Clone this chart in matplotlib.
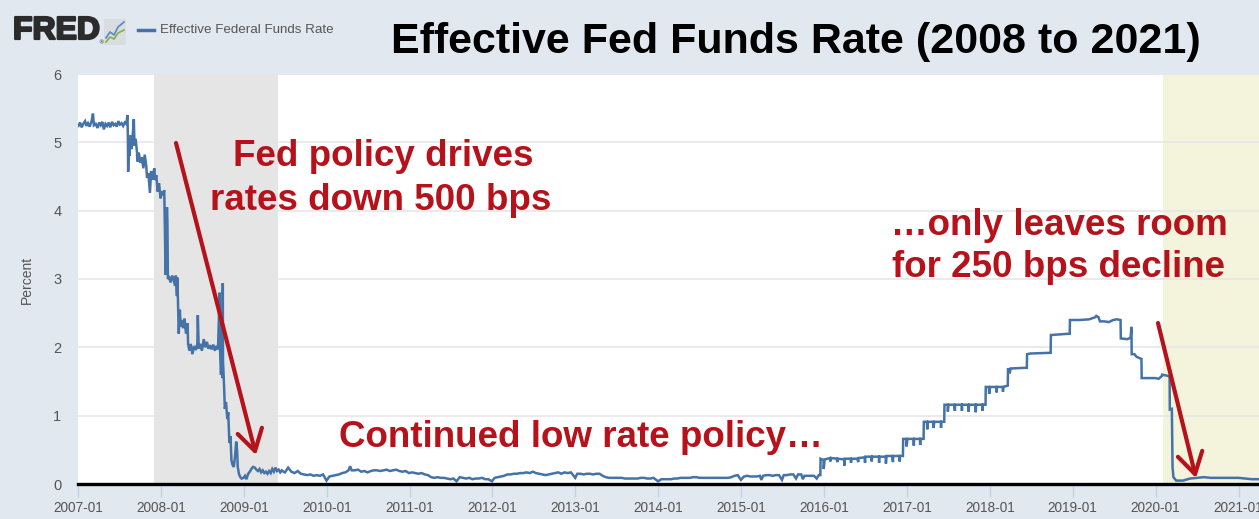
import matplotlib
matplotlib.use("Agg")
import matplotlib.pyplot as plt
import matplotlib.dates as mdates
import matplotlib.patheffects as pe
from matplotlib.patches import Rectangle, FancyArrowPatch
from matplotlib.lines import Line2D
import numpy as np
import pandas as pd

# ---------------- data ----------------
dates_crisis = ["2007-01-03","2007-01-10","2007-01-17","2007-01-24","2007-02-01","2007-02-07","2007-02-14","2007-02-21",
    "2007-03-01","2007-03-08","2007-03-12","2007-03-20","2007-03-28","2007-04-04","2007-04-11","2007-04-18","2007-04-25",
    "2007-05-02","2007-05-09","2007-05-16","2007-05-23","2007-05-31","2007-06-07","2007-06-14","2007-06-21","2007-06-28",
    "2007-07-05","2007-07-12","2007-07-19","2007-07-26","2007-08-02","2007-08-07","2007-08-09","2007-08-10","2007-08-13",
    "2007-08-16","2007-08-20","2007-08-24","2007-08-29","2007-09-04","2007-09-07","2007-09-12","2007-09-18","2007-09-20",
    "2007-09-26","2007-10-02","2007-10-09","2007-10-16","2007-10-22","2007-10-29","2007-11-01","2007-11-07","2007-11-14",
    "2007-11-19","2007-11-26","2007-12-03","2007-12-07","2007-12-12","2007-12-18","2007-12-24","2007-12-31","2008-01-04",
    "2008-01-10","2008-01-16","2008-01-22","2008-01-24","2008-01-28","2008-01-30","2008-02-01","2008-02-07","2008-02-13",
    "2008-02-20","2008-02-27","2008-03-04","2008-03-07","2008-03-12","2008-03-14","2008-03-18","2008-03-20","2008-03-25",
    "2008-03-28","2008-04-02","2008-04-08","2008-04-14","2008-04-21","2008-04-28","2008-04-30","2008-05-06","2008-05-12",
    "2008-05-19","2008-05-27","2008-06-03","2008-06-10","2008-06-12","2008-06-16","2008-06-23","2008-06-30","2008-07-08",
    "2008-07-15","2008-07-22","2008-07-29","2008-08-05","2008-08-12","2008-08-19","2008-08-26","2008-09-02","2008-09-09",
    "2008-09-15","2008-09-16","2008-09-18","2008-09-22","2008-09-25","2008-09-29","2008-09-30","2008-10-01","2008-10-06",
    "2008-10-09","2008-10-14","2008-10-20","2008-10-24","2008-10-29","2008-11-03","2008-11-07","2008-11-12","2008-11-18",
    "2008-11-24","2008-11-28","2008-12-02","2008-12-05","2008-12-10","2008-12-16","2008-12-22","2008-12-30","2009-01-06",
    "2009-01-12","2009-01-20","2009-01-27","2009-02-03","2009-02-10","2009-02-18","2009-02-25","2009-03-04","2009-03-11",
    "2009-03-18","2009-03-25","2009-04-01","2009-04-08","2009-04-15","2009-04-22","2009-04-29","2009-05-06","2009-05-13",
    "2009-05-20","2009-05-27","2009-06-03","2009-06-10","2009-06-17","2009-06-24"]
rate_crisis = [5.24,5.29,5.22,5.27,5.31,5.24,5.28,5.23,
    5.30,5.42,5.25,5.27,5.21,5.29,5.25,5.30,5.19,
    5.27,5.24,5.29,5.22,5.30,5.25,5.27,5.23,5.31,
    5.26,5.28,5.24,5.29,5.27,5.40,5.02,4.57,5.00,
    4.80,5.10,4.90,5.05,5.34,4.95,5.05,4.85,4.72,
    4.85,4.70,4.78,4.62,4.82,4.65,4.48,4.55,4.26,
    4.58,4.45,4.62,4.45,4.52,4.28,4.40,4.18,4.28,
    4.22,4.30,3.06,3.55,4.05,3.85,3.00,3.02,2.95,
    3.05,2.98,2.90,3.05,2.75,3.02,2.45,2.20,2.55,
    2.30,2.40,2.28,2.42,2.20,2.35,2.05,1.95,2.05,
    1.90,2.02,1.96,2.05,2.47,1.98,2.05,1.95,2.12,
    2.00,2.08,1.98,2.03,1.97,2.04,1.95,2.02,1.97,
    2.64,2.80,1.95,1.60,1.90,1.55,2.94,1.80,1.40,
    1.10,1.20,0.95,1.05,0.60,0.70,0.35,0.28,0.25,
    0.45,0.62,0.50,0.25,0.15,0.10,0.08,0.09,0.12,
    0.07,0.15,0.18,0.22,0.25,0.24,0.21,0.19,0.22,
    0.17,0.20,0.16,0.18,0.15,0.19,0.16,0.22,0.18,
    0.24,0.19,0.21,0.17,0.20,0.18]

dates_zlb = ["2009-07-01","2009-07-15","2009-07-29","2009-08-12","2009-08-26","2009-09-09","2009-09-23","2009-10-07",
    "2009-10-21","2009-11-04","2009-11-18","2009-12-02","2009-12-16","2009-12-31","2010-01-13","2010-01-27","2010-02-10",
    "2010-02-24","2010-03-10","2010-03-24","2010-04-07","2010-04-14","2010-04-21","2010-05-05","2010-05-19","2010-06-02",
    "2010-06-16","2010-06-30","2010-07-14","2010-07-28","2010-08-11","2010-08-25","2010-09-08","2010-09-22","2010-10-06",
    "2010-10-20","2010-11-03","2010-11-17","2010-12-01","2010-12-15","2010-12-29","2011-01-12","2011-01-26","2011-02-09",
    "2011-02-23","2011-03-09","2011-03-23","2011-04-06","2011-04-20","2011-05-04","2011-05-18","2011-06-01","2011-06-15",
    "2011-06-29","2011-07-13","2011-07-27","2011-08-10","2011-08-24","2011-09-07","2011-09-21","2011-10-05","2011-10-19",
    "2011-11-02","2011-11-16","2011-11-30","2011-12-14","2011-12-30","2012-01-11","2012-01-25","2012-02-08","2012-02-22",
    "2012-03-07","2012-03-21","2012-04-04","2012-04-18","2012-05-02","2012-05-16","2012-05-30","2012-06-13","2012-06-27",
    "2012-07-11","2012-07-25","2012-08-08","2012-08-22","2012-09-05","2012-09-19","2012-10-03","2012-10-17","2012-10-31",
    "2012-11-14","2012-11-28","2012-12-12","2012-12-31","2013-01-09","2013-01-23","2013-02-06","2013-02-20","2013-03-06",
    "2013-03-20","2013-04-03","2013-04-17","2013-05-01","2013-05-15","2013-05-29","2013-06-12","2013-06-26","2013-07-10",
    "2013-07-24","2013-08-07","2013-08-21","2013-09-04","2013-09-18","2013-10-02","2013-10-16","2013-10-30","2013-11-13",
    "2013-11-27","2013-12-11","2013-12-31","2014-01-15","2014-01-29","2014-02-12","2014-02-26","2014-03-12","2014-03-26",
    "2014-04-09","2014-04-23","2014-05-07","2014-05-21","2014-06-04","2014-06-18","2014-07-02","2014-07-16","2014-07-30",
    "2014-08-13","2014-08-27","2014-09-10","2014-09-24","2014-10-08","2014-10-22","2014-11-05","2014-11-19","2014-12-03",
    "2014-12-17","2014-12-31","2015-01-14","2015-01-28","2015-02-11","2015-02-25","2015-03-11","2015-03-25","2015-03-31",
    "2015-04-08","2015-04-22","2015-05-06","2015-05-20","2015-06-03","2015-06-17","2015-06-30","2015-07-08","2015-07-22",
    "2015-08-05","2015-08-19","2015-08-31","2015-09-09","2015-09-23","2015-09-30","2015-10-07","2015-10-21","2015-11-04",
    "2015-11-18","2015-11-30","2015-12-09","2015-12-16"]
rate_zlb = [0.17,0.24,0.18,0.16,0.19,0.15,0.14,0.13,
    0.14,0.12,0.13,0.12,0.14,0.05,0.11,0.12,0.13,
    0.14,0.16,0.17,0.20,0.26,0.20,0.20,0.21,0.18,
    0.19,0.17,0.19,0.20,0.20,0.19,0.20,0.21,0.19,
    0.20,0.21,0.19,0.18,0.19,0.16,0.17,0.16,0.15,
    0.16,0.14,0.13,0.10,0.09,0.10,0.09,0.09,0.08,
    0.07,0.08,0.04,0.10,0.09,0.08,0.09,0.07,0.08,
    0.08,0.09,0.07,0.07,0.04,0.09,0.10,0.11,0.12,
    0.14,0.14,0.15,0.15,0.16,0.16,0.17,0.16,0.18,
    0.16,0.15,0.14,0.13,0.14,0.15,0.16,0.17,0.15,
    0.17,0.16,0.17,0.09,0.15,0.15,0.14,0.15,0.15,
    0.14,0.15,0.15,0.12,0.10,0.09,0.09,0.09,0.09,
    0.09,0.08,0.08,0.08,0.08,0.08,0.09,0.09,0.08,
    0.08,0.09,0.04,0.07,0.07,0.07,0.07,0.08,0.08,
    0.09,0.09,0.09,0.09,0.10,0.10,0.09,0.09,0.09,
    0.09,0.09,0.09,0.09,0.09,0.09,0.09,0.10,0.12,
    0.13,0.06,0.11,0.12,0.11,0.11,0.11,0.12,0.06,
    0.12,0.13,0.13,0.12,0.13,0.13,0.06,0.13,0.13,
    0.14,0.14,0.08,0.14,0.14,0.07,0.12,0.12,0.12,
    0.12,0.08,0.13,0.13]

dates_hikes = ["2015-12-17","2015-12-30","2015-12-31","2016-01-04","2016-01-28","2016-01-29","2016-02-01","2016-02-26",
    "2016-02-29","2016-03-01","2016-03-30","2016-03-31","2016-04-01","2016-04-28","2016-04-29","2016-05-02","2016-05-27",
    "2016-05-31","2016-06-01","2016-06-29","2016-06-30","2016-07-01","2016-07-28","2016-07-29","2016-08-01","2016-08-30",
    "2016-08-31","2016-09-01","2016-09-29","2016-09-30","2016-10-03","2016-10-28","2016-10-31","2016-11-01","2016-11-29",
    "2016-11-30","2016-12-01","2016-12-14","2016-12-15","2016-12-29","2016-12-30","2017-01-03","2017-01-30","2017-01-31",
    "2017-02-01","2017-02-27","2017-02-28","2017-03-01","2017-03-15","2017-03-16","2017-03-30","2017-03-31","2017-04-03",
    "2017-04-27","2017-04-28","2017-05-01","2017-05-30","2017-05-31","2017-06-01","2017-06-14","2017-06-15","2017-06-29",
    "2017-06-30","2017-07-03","2017-07-28","2017-07-31","2017-08-01","2017-08-30","2017-08-31","2017-09-01","2017-09-28",
    "2017-09-29","2017-10-02","2017-10-30","2017-10-31","2017-11-01","2017-11-29","2017-11-30","2017-12-01","2017-12-13",
    "2017-12-14","2017-12-28","2017-12-29","2018-01-02","2018-01-30","2018-01-31","2018-02-01","2018-02-27","2018-02-28",
    "2018-03-01","2018-03-21","2018-03-22","2018-03-29","2018-03-30","2018-04-02","2018-05-31","2018-06-13","2018-06-14",
    "2018-06-29","2018-07-02","2018-09-26","2018-09-27","2018-12-19","2018-12-20","2019-01-31","2019-03-15","2019-04-10",
    "2019-04-15","2019-04-25","2019-05-01","2019-05-20","2019-06-10","2019-06-28","2019-07-15","2019-07-31","2019-08-01",
    "2019-08-30","2019-09-13","2019-09-16","2019-09-17","2019-09-18","2019-09-30","2019-10-10","2019-10-31","2019-11-01",
    "2019-12-31","2020-01-15","2020-01-29","2020-01-30","2020-02-28","2020-03-03","2020-03-04","2020-03-13","2020-03-16",
    "2020-03-20","2020-04-01","2020-05-01","2020-06-01","2020-07-01","2020-08-01","2020-09-01","2020-10-01","2020-11-01",
    "2020-12-01","2021-01-01","2021-02-01","2021-03-01","2021-04-01"]
rate_hikes = [0.37,0.35,0.22,0.36,0.38,0.33,0.38,0.37,
    0.32,0.37,0.36,0.27,0.37,0.37,0.31,0.37,0.37,
    0.32,0.38,0.39,0.31,0.40,0.40,0.33,0.40,0.40,
    0.31,0.40,0.40,0.30,0.41,0.41,0.32,0.41,0.41,
    0.33,0.41,0.41,0.66,0.66,0.55,0.66,0.66,0.56,
    0.66,0.66,0.57,0.66,0.66,0.91,0.91,0.80,0.91,
    0.91,0.82,0.91,0.91,0.82,0.91,0.91,1.16,1.16,
    1.06,1.16,1.16,1.07,1.16,1.16,1.07,1.16,1.16,
    1.06,1.16,1.16,1.05,1.16,1.16,1.07,1.16,1.16,
    1.42,1.42,1.32,1.42,1.42,1.34,1.42,1.42,1.35,
    1.42,1.44,1.68,1.68,1.62,1.69,1.70,1.70,1.90,
    1.91,1.91,1.92,2.18,2.20,2.40,2.40,2.41,2.44,
    2.46,2.44,2.38,2.38,2.37,2.40,2.41,2.40,2.13,
    2.12,2.14,2.25,2.30,1.90,1.90,1.86,1.83,1.55,
    1.55,1.54,1.58,1.60,1.58,1.58,1.09,1.10,0.25,
    0.10,0.05,0.05,0.08,0.09,0.10,0.09,0.09,0.09,
    0.09,0.09,0.08,0.07,0.07]

year_ticks = [f"{y}-01-01" for y in range(2007, 2022)]
recession_spans = [("2007-12-01", "2009-06-01"), ("2020-02-01", "2021-04-01")]
recession_colors = ["#e5e5e5", "#f4f3dc"]
title_text = "Effective Fed Funds Rate (2008 to 2021)"
series_name = "Effective Federal Funds Rate"

# ---------------- figure ----------------
W, H = 1259, 519
BG = "#e1e8f0"
RED = "#b5121b"
BLUE = "#4572a7"
GRAYTXT = "#555555"
FONT = ["Liberation Sans", "DejaVu Sans"]

def fx(px):
    return px / W

def fy(py):
    return (H - py) / H

fig = plt.figure(figsize=(W / 100, H / 100), dpi=100, facecolor=BG)
ax = fig.add_axes([fx(78), fy(484), (W - 78) / W, (484 - 74) / H])
ax.set_facecolor("white")

dates = pd.to_datetime(dates_crisis + dates_zlb + dates_hikes)
rates = np.array(rate_crisis + rate_zlb + rate_hikes)

for (s, e), c in zip(recession_spans, recession_colors):
    ax.axvspan(pd.Timestamp(s), pd.Timestamp(e), color=c, zorder=0.5, lw=0)

ax.plot(dates, rates, color=BLUE, lw=1.8, zorder=2, solid_joinstyle="miter")
ax.axhline(0, color="black", lw=2.4, zorder=4, clip_on=False)

ax.set_xlim(pd.Timestamp("2007-01-01"), pd.Timestamp("2021-04-01"))
ax.set_ylim(0, 6)
ax.set_yticks(range(0, 7))
ax.yaxis.grid(True, color="#e6e6e6", lw=1.2, zorder=1)
ax.set_axisbelow(True)
ax.set_xticks(pd.to_datetime(year_ticks))
ax.xaxis.set_major_formatter(mdates.DateFormatter("%Y-%m"))
for sp in ax.spines.values():
    sp.set_visible(False)
ax.tick_params(axis="y", length=0, pad=12, labelsize=10.5, labelcolor=GRAYTXT)
ax.tick_params(axis="x", length=9, width=1, color="#c3d2e4", pad=3,
               labelsize=9.8, labelcolor=GRAYTXT)
for lab in ax.get_xticklabels() + ax.get_yticklabels():
    lab.set_family(FONT)

fig.text(fx(27), fy(280), "Percent", rotation=90, ha="center", va="center",
         fontsize=10, color=GRAYTXT, family=FONT)

# ---------------- header ----------------
fig.text(fx(796), fy(42), title_text, ha="center", va="center", fontsize=31,
         fontweight="bold", color="black", family=FONT)

fig.text(fx(13), fy(31), "FRED", ha="left", va="center", fontsize=23,
         fontweight="bold", color="#2b2b2b", family=FONT,
         path_effects=[pe.withStroke(linewidth=1.6, foreground="#2b2b2b")])
fig.text(fx(98), fy(43), "®", ha="left", va="center", fontsize=4, color="#2b2b2b")
fig.add_artist(Rectangle((fx(104), fy(45)), (126 - 104) / W, (45 - 19) / H,
                         transform=fig.transFigure, facecolor="#d9dde2", edgecolor="none"))
fig.add_artist(Line2D([fx(106), fx(110), fx(114), fx(118), fx(124)],
                      [fy(38), fy(32), fy(35), fy(27), fy(22)],
                      transform=fig.transFigure, color="#5b86c0", lw=1.2))
fig.add_artist(Line2D([fx(106), fx(110), fx(114), fx(118), fx(124)],
                      [fy(42), fy(37), fy(39), fy(33), fy(30)],
                      transform=fig.transFigure, color="#7fb04a", lw=1.2))
fig.add_artist(Line2D([fx(138), fx(154)], [fy(30), fy(30)],
                      transform=fig.transFigure, color=BLUE, lw=2.5))
fig.text(fx(160), fy(30), series_name, ha="left", va="center", fontsize=9.6,
         color=GRAYTXT, family=FONT)

# ---------------- annotations ----------------
ann = dict(color=RED, fontsize=26.5, fontweight="bold", family=FONT,
           ha="center", va="baseline")
fig.text(fx(383), fy(166), "Fed policy drives", **ann)
fig.text(fx(381), fy(210), "rates down 500 bps", **ann)
fig.text(fx(581), fy(447), "Continued low rate policy…", **ann)
fig.text(fx(1059), fy(235), "…only leaves room", **ann)
fig.text(fx(1059), fy(277), "for 250 bps decline", **ann)

arrow = dict(arrowstyle="->,head_length=0.75,head_width=0.45", color=RED,
             lw=3, shrinkA=0, shrinkB=0, mutation_scale=20)
fig.add_artist(FancyArrowPatch((fx(176), fy(143)), (fx(256), fy(455)),
                               transform=fig.transFigure, **arrow))
fig.add_artist(FancyArrowPatch((fx(1158), fy(323)), (fx(1196), fy(478)),
                               transform=fig.transFigure, **arrow))

fig.savefig("out.png", dpi=100, facecolor=BG)
